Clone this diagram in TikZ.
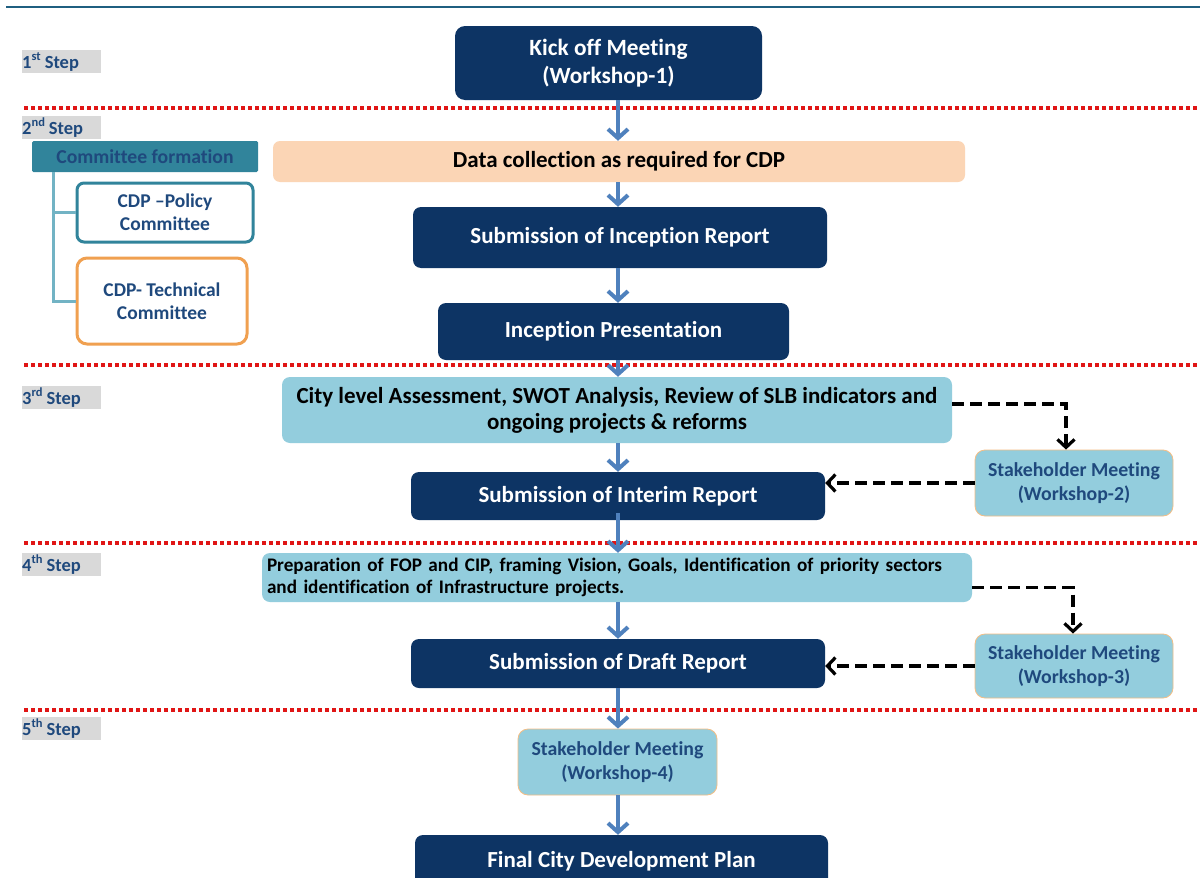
\documentclass[tikz,border=0pt]{standalone}
\usepackage{fontspec}
\setmainfont{Carlito}[Ligatures=NoCommon]
\usetikzlibrary{arrows.meta,calc}

\definecolor{navy}{HTML}{0D3464}
\definecolor{aqua}{HTML}{93CDDD}
\definecolor{peach}{HTML}{FBD5B5}
\definecolor{flowblue}{HTML}{4F81BD}
\definecolor{labelblue}{HTML}{1F497D}
\definecolor{teal}{HTML}{31849B}
\definecolor{tealline}{HTML}{72B3C4}
\definecolor{orangeline}{HTML}{F0A050}
\definecolor{dotred}{HTML}{E01515}
\definecolor{stepgrey}{HTML}{D9D9D9}
\definecolor{topline}{HTML}{1F5F80}

\newcommand{\ordsup}[1]{\raisebox{0.42em}{\fontsize{12.5}{12}\selectfont #1}}

\begin{document}
\begin{tikzpicture}[x=1pt,y=-1pt,
  box/.style={inner sep=0pt, align=center, font=\bfseries\fontsize{23}{27}\selectfont},
  navybox/.style={box, fill=navy, text=white, rounded corners=8pt},
  aquabox/.style={box, fill=aqua, text=black, rounded corners=8pt},
  meetbox/.style={box, fill=aqua, draw=orangeline!70, line width=0.8pt, text=labelblue,
    rounded corners=10pt, font=\bfseries\fontsize{19.8}{24}\selectfont},
  steplabel/.style={fill=stepgrey, text=labelblue, anchor=north west, inner sep=0pt,
    minimum width=79pt, minimum height=23pt, text width=79pt, align=left,
    font=\bfseries\fontsize{18.5}{20}\selectfont},
  sepline/.style={dotred, line width=3.5pt, dash pattern=on 3.5pt off 3.5pt},
  flow/.style={flowblue, line width=4pt, -{Straight Barb[length=9pt,width=20pt]}},
  feedback/.style={black, line width=3.2pt, dash pattern=on 12pt off 6pt,
    -{Straight Barb[length=8pt,width=17pt]}},
  branch/.style={tealline, line width=3pt}
]
\useasboundingbox (0,0) rectangle (1200,878);
\clip (0,0) rectangle (1200,878);
\fill[white] (0,0) rectangle (1200,878);

% header rule
\draw[topline, line width=2.5pt] (6,7) -- (1200,7);

% step separators
\draw[sepline] (24,108) -- (1200,108);
\draw[sepline] (24,365) -- (1200,365);
\draw[sepline] (24,543) -- (1200,543);
\draw[sepline] (24,710) -- (1200,710);

% step labels
\node[steplabel] (s1) at (22,50) {1\ordsup{st}\hspace{4pt}Step};
\node[steplabel] (s2) at (22,116) {2\ordsup{nd}\hspace{4pt}Step};
\node[steplabel] (s3) at (22,386) {3\ordsup{rd}\hspace{4pt}Step};
\node[steplabel] (s4) at (22,553) {4\ordsup{th}\hspace{4pt}Step};
\node[steplabel] (s5) at (22,717) {5\ordsup{th}\hspace{4pt}Step};

% committee formation branch
\node[box, fill=teal, text=labelblue, rounded corners=1.5pt, minimum width=226pt, minimum height=31pt,
  font=\bfseries\fontsize{19.7}{22}\selectfont] (comm) at (145,156.5) {Committee formation};
\node[box, draw=teal, line width=3pt, fill=white, text=labelblue, rounded corners=7pt,
  minimum width=176pt, minimum height=59pt, font=\bfseries\fontsize{19.5}{23}\selectfont]
  (policy) at (165,212.5) {CDP --Policy\\Committee};
\node[box, draw=orangeline, line width=3pt, fill=white, text=labelblue, rounded corners=10pt,
  minimum width=170pt, minimum height=86pt, font=\bfseries\fontsize{19.5}{23}\selectfont]
  (tech) at (162,301) {CDP- Technical\\Committee};
\coordinate (trunk) at (53,0);
\draw[branch] (comm.south -| trunk) |- (policy.west);
\draw[branch] (comm.south -| trunk) |- (tech.west);

% main flow
\node[navybox, rounded corners=10pt, minimum width=307pt, minimum height=74pt,
  font=\bfseries\fontsize{23.3}{28}\selectfont] (kick) at (608.5,63) {Kick off Meeting\\(Workshop-1)};
\node[box, fill=peach, text=black, rounded corners=7pt, minimum width=692pt, minimum height=41pt]
  (data) at (619,161.5) {Data collection as required for CDP};
\node[navybox, minimum width=414pt, minimum height=61pt] (incep) at (620,237.5) {Submission of Inception Report};
\node[navybox, minimum width=351pt, minimum height=57pt] (pres) at (613.5,331.5) {Inception Presentation};
\node[aquabox, minimum width=670pt, minimum height=66pt, font=\bfseries\fontsize{23}{26}\selectfont]
  (city) at (617,410)
  {City level Assessment, SWOT Analysis, Review of SLB indicators and\\ongoing projects \& reforms};
\node[navybox, minimum width=414pt, minimum height=48pt] (interim) at (618,496) {Submission of Interim Report};
\node[aquabox, minimum width=710pt, minimum height=49pt, text width=700pt, inner xsep=5pt,
  align=left, font=\bfseries\fontsize{19.2}{21.5}\selectfont] (prep) at (617,577.5)
  {Preparation of FOP and CIP, framing Vision, Goals, Identification of priority sectors\\and identification of Infrastructure projects.};
\node[navybox, minimum width=414pt, minimum height=49pt] (draft) at (618,663.5) {Submission of Draft Report};
\node[meetbox, minimum width=199pt, minimum height=66pt] (ws4) at (617.5,762) {Stakeholder Meeting\\(Workshop-4)};
\node[navybox, minimum width=413pt, minimum height=52pt] (final) at (621.5,861) {Final City Development Plan};

% stakeholder meetings on the right
\node[meetbox, minimum width=198pt, minimum height=66pt] (ws2) at (1074,483) {Stakeholder Meeting\\(Workshop-2)};
\node[meetbox, minimum width=198pt, minimum height=64pt] (ws3) at (1074,666) {Stakeholder Meeting\\(Workshop-3)};

% flow arrows along the central axis
\coordinate (axis) at (618,0);
\draw[flow] (kick.south -| axis) -- (data.north -| axis);
\draw[flow] (data.south -| axis) -- (incep.north -| axis);
\draw[flow] (incep.south -| axis) -- (pres.north -| axis);
\draw[flow] (pres.south -| axis) -- (city.north -| axis);
\draw[flow] (city.south -| axis) -- (interim.north -| axis);
\draw[flow] ([yshift=7pt]interim.south -| axis) -- (prep.north -| axis);
\draw[flow] (prep.south -| axis) -- (draft.north -| axis);
\draw[flow] (draft.south -| axis) -- (ws4.north -| axis);
\draw[flow] (ws4.south -| axis) -- (final.north -| axis);

% feedback loops through the stakeholder meetings
\draw[feedback] ([yshift=6pt]city.east) -| ([xshift=-8pt]ws2.north);
\draw[feedback] (ws2.west) -- (ws2.west -| interim.east);
\draw[feedback] ([yshift=-10pt]prep.east) -| ([xshift=-1pt]ws3.north);
\draw[feedback] (ws3.west) -- (ws3.west -| draft.east);
\end{tikzpicture}
\end{document}
